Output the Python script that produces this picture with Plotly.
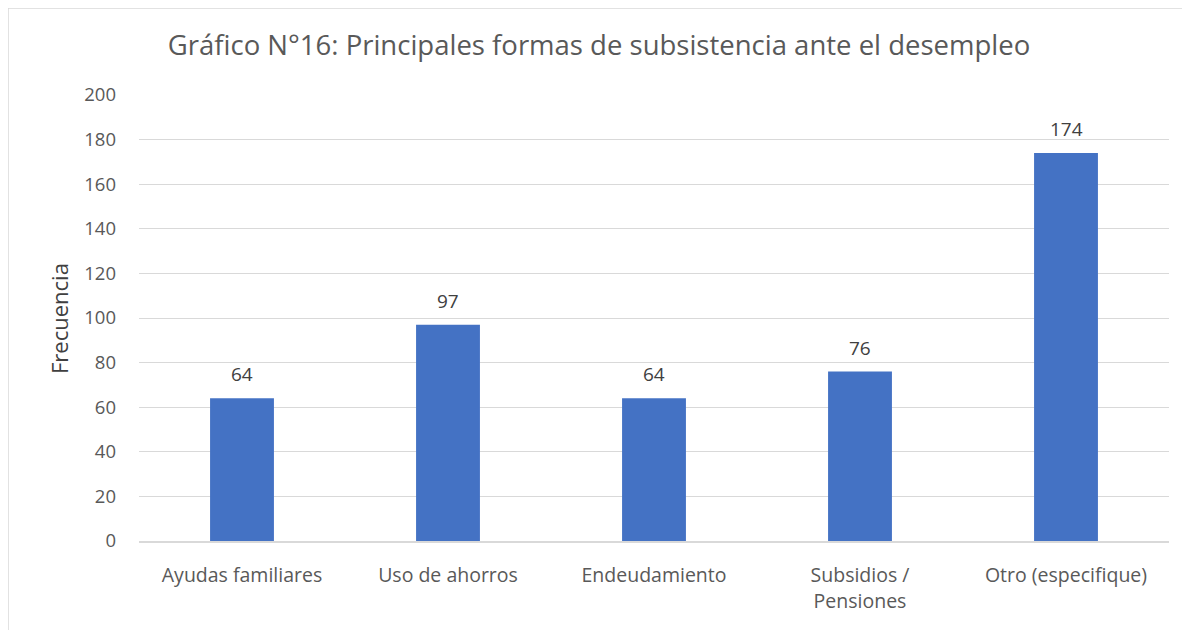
import plotly.graph_objects as go

categories = ["Ayudas familiares", "Uso de ahorros", "Endeudamiento", "Subsidios /<br>Pensiones", "Otro (especifique)"]
values = [64, 97, 64, 76, 174]
y_ticks = [0, 20, 40, 60, 80, 100, 120, 140, 160, 180, 200]

# page body has an 8px default margin
W, H = 1182, 622
L, R, T, B = 131, 21, 87, 89
PW, PH = W - L - R, H - T - B

fig = go.Figure(go.Bar(
    x=categories, y=values,
    marker=dict(color="#4472C4", line=dict(width=0)),
    width=0.31,
    hoverinfo="x+y",
))

annotations = [
    dict(x=c, y=v, xref="x", yref="y", text=str(v), showarrow=False,
         yanchor="bottom", yshift=9, font=dict(size=19, color="#404040"))
    for c, v in zip(categories, values)
]
annotations.append(dict(
    x=(51 - L) / PW, y=(H - B - 311) / PH, xref="paper", yref="paper",
    text="Frecuencia", textangle=-90, showarrow=False,
    xanchor="center", yanchor="middle", font=dict(size=22, color="#404040")))

fig.update_layout(
    width=W, height=H,
    margin=dict(l=L, r=R, t=T, b=B),
    paper_bgcolor="white", plot_bgcolor="white",
    font=dict(family="Open Sans", color="#595959", size=18),
    title=dict(text="Gráfico N°16: Principales formas de subsistencia ante el desempleo",
               x=0.5, xanchor="center", y=1 - 37 / H, yanchor="middle",
               font=dict(size=27.5, color="#595959")),
    xaxis=dict(showline=True, linecolor="#D9D9D9", linewidth=1.5, ticks="",
               tickfont=dict(size=19.5, color="#595959"), ticklabelstandoff=16),
    yaxis=dict(range=[0, 200], tickvals=y_ticks, showgrid=True, gridcolor="#D9D9D9",
               gridwidth=1.2, zeroline=False, ticks="", ticklen=0,
               tickfont=dict(size=18.5, color="#595959"), ticklabelstandoff=22),
    annotations=annotations,
    showlegend=False,
    shapes=[dict(type="rect", xref="paper", yref="paper",
                 x0=(0 - L) / PW, x1=(W + 5 - L) / PW,
                 y0=(H - B - H - 5) / PH, y1=(H - B - 0) / PH,
                 line=dict(color="#D9D9D9", width=1.5), fillcolor="rgba(0,0,0,0)", layer="below")],
)

fig.write_html("out.html")
